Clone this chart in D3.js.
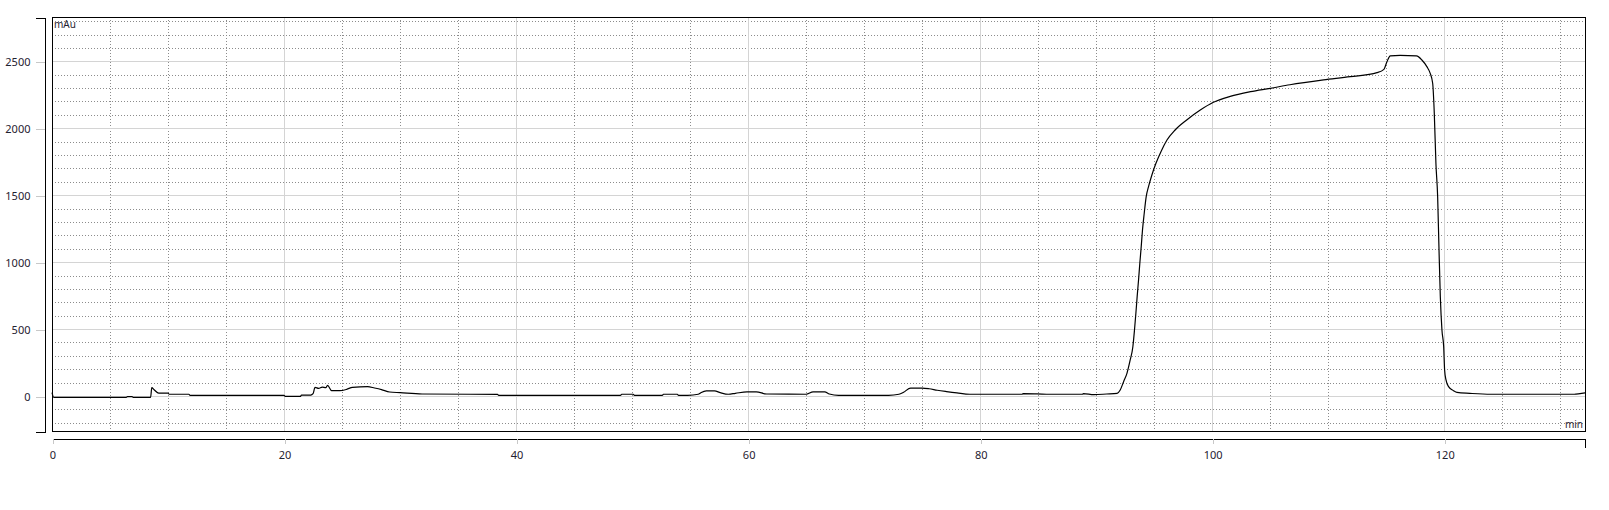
<!DOCTYPE html>
<html>
<head>
<meta charset="utf-8">
<script src="https://cdn.jsdelivr.net/npm/d3@7"></script>
<style>
  body { margin: 0; background: #fff; }
  text { font-family: "Noto Sans", "DejaVu Sans", sans-serif; fill: #1f2230; }
</style>
</head>
<body>
<div id="chart"></div>
<script>

// chromatogram trace (min, mAu)
var times = [0, 0.15, 6.4, 6.5, 6.9, 7.0, 8.5, 8.6, 8.8, 9.2, 10.0, 10.1, 11.8, 11.9, 20.0, 20.1, 21.4, 21.5, 22.3, 22.5,
  22.67, 22.98, 23.29, 23.6, 23.75, 24.1, 24.8, 25.4, 25.9, 27.2, 27.8, 28.4, 29.1, 30.0, 31.9, 38.4, 38.5, 47.2, 49.0, 49.1,
  50.1, 50.2, 52.6, 52.7, 53.9, 54.0, 54.8, 55.7, 55.9, 56.4, 57.1, 57.6, 58.3, 58.9, 59.9, 60.7, 61.6, 65.0, 65.6, 66.6,
  67.0, 67.8, 72.1, 73.0, 73.4, 74.0, 75.0, 75.6, 76.3, 77.1, 78.0, 79.1, 83.6, 83.7, 84.9, 86.0, 88.8, 88.9, 89.8, 90.9,
  91.8, 92.07, 92.36, 92.65, 92.93, 93.16, 93.3, 93.42, 93.53, 93.65, 93.76, 93.88, 93.99, 94.14, 94.31, 94.51, 94.8, 95.15, 95.58, 96.1,
  96.8, 97.8, 98.97, 100.06, 101.55, 103.3, 105.0, 106.7, 109.6, 111.9, 114.2, 114.8, 115.06, 115.35, 116.2, 117.6, 118.07, 118.5, 118.79, 119.0,
  119.14, 119.28, 119.43, 119.54, 119.66, 119.8, 119.95, 120.03, 120.15, 120.37, 120.8, 121.1, 122.2, 124.0, 131.2, 131.7, 132.13]

var absorbance = [25, -10, -10, -5, -5, -10, -10, 62, 47, 21, 21, 13, 13, 5, 5, -3, -3, 6, 7, 17,
  65, 57, 66, 62, 80, 40, 40, 50, 65, 70, 60, 48, 30, 25, 15, 12, 5, 5, 5, 13,
  13, 5, 5, 13, 13, 5, 5, 13, 23, 38, 38, 25, 13, 20, 31, 31, 15, 13, 31, 31,
  15, 5, 5, 13, 28, 59, 59, 54, 43, 33, 23, 13, 13, 18, 16, 13, 13, 18, 10, 15,
  20, 45, 107, 169, 269, 368, 493, 618, 742, 867, 991, 1116, 1240, 1365, 1489, 1564, 1651, 1738, 1825, 1912,
  1987, 2062, 2136, 2192, 2238, 2273, 2298, 2325, 2361, 2385, 2415, 2440, 2497, 2540, 2545, 2540, 2510, 2460, 2410, 2336,
  2112, 1738, 1489, 1116, 742, 493, 368, 194, 120, 70, 40, 27, 20, 13, 13, 18, 23]

var xTicks = [0, 20, 40, 60, 80, 100, 120]
var yTicks = [0, 500, 1000, 1500, 2000, 2500]
var xDomain = [0, 132.13]
var yDomain = [-261.4, 2830.9]

var width = 1609
var height = 510
var plotL = 52, plotR = 1585, plotT = 17, plotB = 431

var x = d3.scaleLinear().domain(xDomain).range([plotL, plotR])
var y = d3.scaleLinear().domain(yDomain).range([plotB, plotT])

var svg = d3.select("#chart").append("svg")
  .attr("width", width)
  .attr("height", height)

// grid
var grid = svg.append("g").attr("shape-rendering", "crispEdges")

var yMinor = d3.range(-200, 2900, 100).filter(function(v) { return v % 500 !== 0 })
var xMinor = d3.range(5, 135, 5).filter(function(t) { return t % 20 !== 0 && t < xDomain[1] })

grid.selectAll(".hdot").data(yMinor).enter().append("line")
  .attr("x1", plotL).attr("x2", plotR)
  .attr("y1", function(d) { return Math.round(y(d)) + 0.5 })
  .attr("y2", function(d) { return Math.round(y(d)) + 0.5 })
  .attr("stroke", "#8c8c8c").attr("stroke-dasharray", "1,2")

grid.selectAll(".vdot").data(xMinor).enter().append("line")
  .attr("y1", plotT).attr("y2", plotB)
  .attr("x1", function(d) { return Math.round(x(d)) + 0.5 })
  .attr("x2", function(d) { return Math.round(x(d)) + 0.5 })
  .attr("stroke", "#8c8c8c").attr("stroke-dasharray", "1,2")

grid.selectAll(".hsolid").data(yTicks).enter().append("line")
  .attr("x1", plotL).attr("x2", plotR)
  .attr("y1", function(d) { return Math.round(y(d)) + 0.5 })
  .attr("y2", function(d) { return Math.round(y(d)) + 0.5 })
  .attr("stroke", "#d4d4d4")

grid.selectAll(".vsolid").data(xTicks.slice(1)).enter().append("line")
  .attr("y1", plotT).attr("y2", plotB)
  .attr("x1", function(d) { return Math.round(x(d)) + 0.5 })
  .attr("x2", function(d) { return Math.round(x(d)) + 0.5 })
  .attr("stroke", "#d4d4d4")

// trace
var line = d3.line()
  .x(function(d, i) { return x(times[i]) })
  .y(function(d) { return y(d) })
  .curve(d3.curveMonotoneX)

svg.append("path")
  .datum(absorbance)
  .attr("d", line)
  .attr("fill", "none")
  .attr("stroke", "#000")
  .attr("stroke-width", 1.2)
  .attr("stroke-linejoin", "round")

// plot frame
svg.append("rect")
  .attr("x", plotL + 0.5).attr("y", plotT + 0.5)
  .attr("width", plotR - plotL).attr("height", plotB - plotT)
  .attr("fill", "none").attr("stroke", "#000").attr("stroke-width", 1)
  .attr("shape-rendering", "crispEdges")

// y axis
var yAxisG = svg.append("g").attr("transform", "translate(44.5,0.5)")
yAxisG.call(d3.axisLeft(y).tickValues(d3.range(-200, 2900, 100)).tickSize(5).tickSizeOuter(0).tickFormat(""))
yAxisG.call(d3.axisLeft(y).tickValues(yTicks).tickSize(9).tickSizeOuter(9).tickPadding(5).tickFormat(d3.format("d")))
yAxisG.selectAll(".tick line").attr("stroke", "#c8c8c8")
yAxisG.selectAll(".domain").attr("stroke", "#000").attr("stroke-width", 1)
yAxisG.selectAll("text").style("font-size", "11px").attr("fill", "#1f2230")
yAxisG.attr("shape-rendering", "crispEdges")

// x axis
var xAxisG = svg.append("g").attr("transform", "translate(0.5,438.5)")
xAxisG.call(d3.axisBottom(x).tickValues(xMinor).tickSize(5).tickSizeOuter(0).tickFormat(""))
xAxisG.call(d3.axisBottom(x).tickValues(xTicks).tickSize(5).tickSizeOuter(0).tickPadding(8).tickFormat(d3.format("d")))
xAxisG.selectAll(".tick line").attr("stroke", "#c8c8c8")
xAxisG.selectAll(".domain").attr("stroke", "#000").attr("stroke-width", 1)
xAxisG.selectAll("text").style("font-size", "11px").attr("fill", "#1f2230")
xAxisG.attr("shape-rendering", "crispEdges")

xAxisG.append("line")
  .attr("x1", plotR).attr("x2", plotR)
  .attr("y1", 0).attr("y2", 9)
  .attr("stroke", "#000").attr("stroke-width", 1)

// unit labels
svg.append("text")
  .attr("x", 54).attr("y", 28)
  .style("font-size", "10px")
  .text("mAu")

svg.append("text")
  .attr("x", 1583).attr("y", 428)
  .attr("text-anchor", "end")
  .style("font-size", "10px")
  .text("min")

</script>
</body>
</html>
